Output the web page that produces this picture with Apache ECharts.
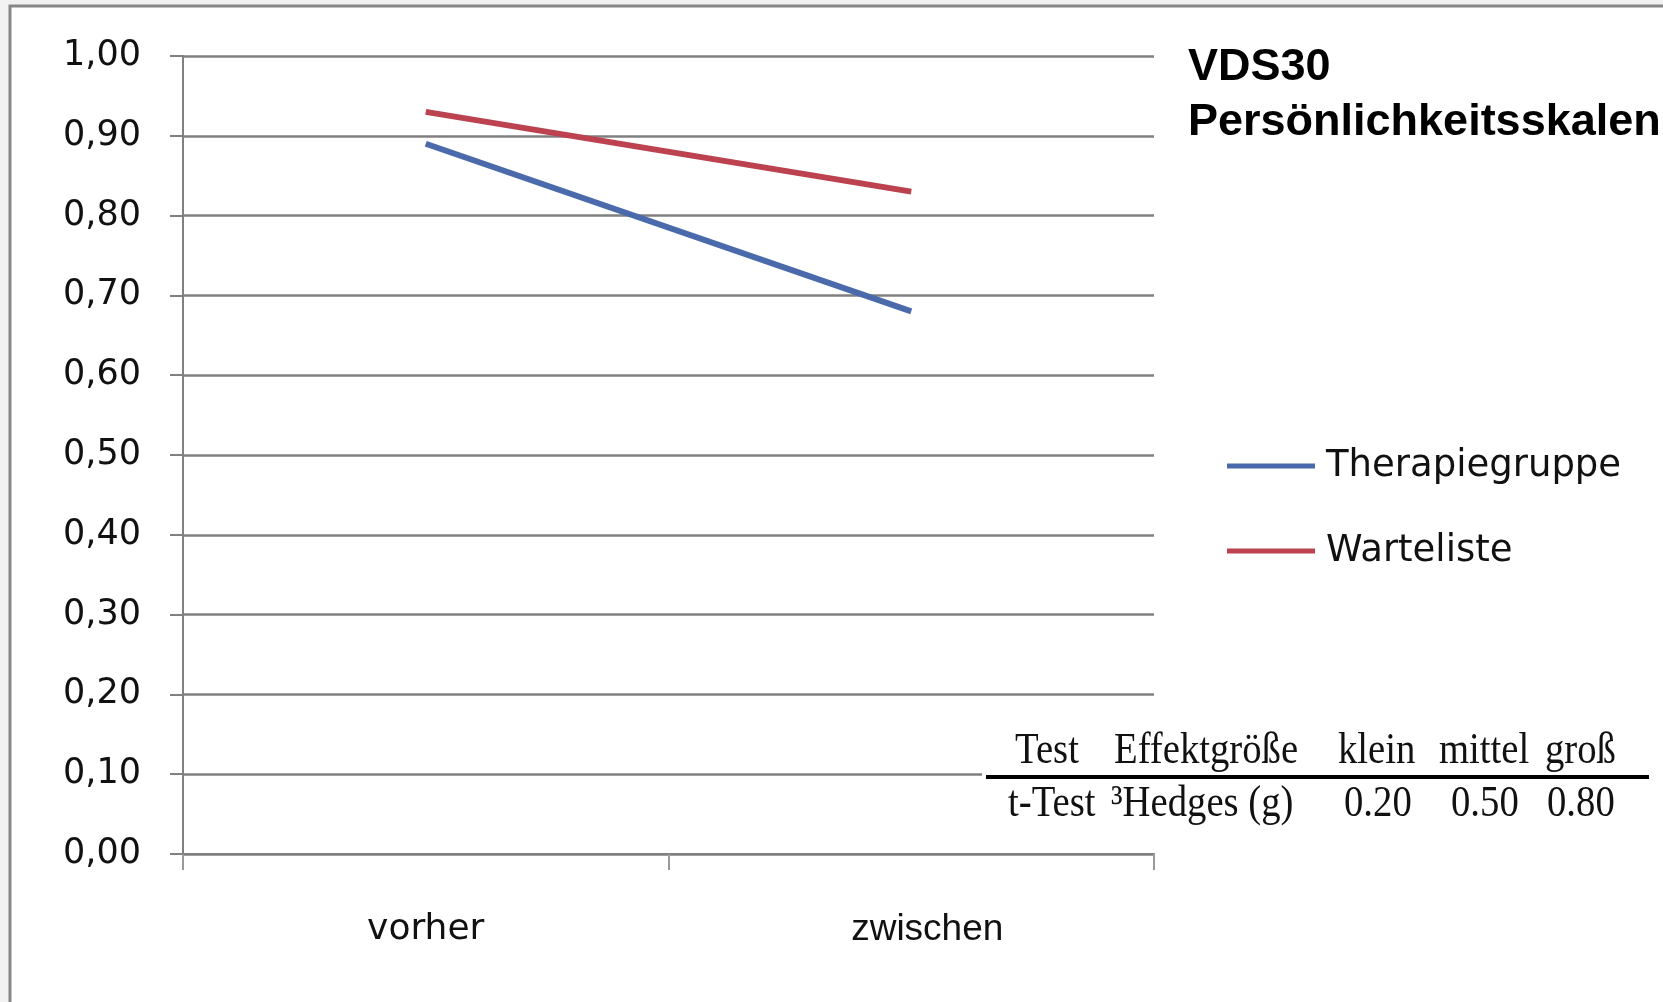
<!DOCTYPE html>
<html>
<head>
<meta charset="utf-8">
<script src="https://cdn.jsdelivr.net/npm/echarts@6/dist/echarts.min.js"></script>
<style>
html,body{margin:0;padding:0;background:#f2f2f2;}
#c{width:1663px;height:1002px;}
</style>
</head>
<body>
<div id="c"></div>
<script>
// ---- data ----
const categories = ['vorher', 'zwischen'];
const therapiegruppe = [0.89, 0.68];
const warteliste = [0.93, 0.83];
const seriesNames = ['Therapiegruppe', 'Warteliste'];
const yTickLabels = ['0,00','0,10','0,20','0,30','0,40','0,50','0,60','0,70','0,80','0,90','1,00'];
const titleLines = ['VDS30', 'Persönlichkeitsskalen'];
const tableHeader = ['Test', 'Effektgröße', 'klein', 'mittel', 'groß'];
const tableRow = ['t-Test', '³Hedges (g)', '0.20', '0.50', '0.80'];

// ---- layout ----
const headerX = [1015, 1114, 1338, 1439, 1545];
const rowX = [1008, 1111, 1344, 1451, 1547];

const chart = echarts.init(document.getElementById('c'));

const tableFont = {fontFamily: 'Liberation Serif', fontSize: 45, fill: '#111'};
const tableEls = [];
tableHeader.forEach((t, i) => tableEls.push({
  type: 'text', x: headerX[i], y: 751, scaleX: 0.86, z: 101,
  style: Object.assign({text: t, verticalAlign: 'middle', align: 'left'}, tableFont)
}));
tableRow.forEach((t, i) => tableEls.push({
  type: 'text', x: rowX[i], y: 804, scaleX: 0.86, z: 101,
  style: Object.assign({text: t, verticalAlign: 'middle', align: 'left'}, tableFont)
}));

chart.setOption({
  backgroundColor: 'transparent',
  animation: false,
  title: {
    text: titleLines.join('\n'),
    left: 1188, top: 40, padding: 0,
    textStyle: {fontFamily: 'Liberation Sans', fontWeight: 'bold', fontSize: 45, lineHeight: 55, color: '#000'}
  },
  legend: {
    data: seriesNames,
    orient: 'vertical',
    left: 1227, top: 446, padding: 0,
    icon: 'rect',
    itemWidth: 88, itemHeight: 5,
    itemGap: 45,
    textStyle: {fontFamily: 'DejaVu Sans', fontSize: 37, lineHeight: 40, color: '#111', padding: [0, 0, 0, 6]}
  },
  grid: {left: 183, right: 509, top: 56, bottom: 148, containLabel: false},
  xAxis: {
    type: 'category',
    data: categories,
    boundaryGap: true,
    axisLine: {show: true, lineStyle: {color: '#808080', width: 2}},
    axisTick: {show: true, length: 16, lineStyle: {color: '#9a9a9a', width: 2}},
    axisLabel: {
      margin: 56,
      formatter: (v, i) => i === 0 ? '{a|' + v + '}' : '{b|' + v + '}',
      rich: {
        a: {fontFamily: 'DejaVu Sans', fontSize: 36, lineHeight: 40, color: '#111'},
        b: {fontFamily: 'Liberation Sans', fontSize: 37, lineHeight: 40, color: '#111', padding: [0, 0, 0, 32]}
      }
    },
    splitLine: {show: false}
  },
  yAxis: {
    type: 'value',
    min: 0, max: 1, interval: 0.1,
    axisLine: {show: true, lineStyle: {color: '#808080', width: 2}},
    axisTick: {show: true, length: 13, lineStyle: {color: '#808080', width: 2}},
    axisLabel: {
      margin: 42,
      fontFamily: 'DejaVu Sans', fontSize: 35, color: '#111',
      formatter: (v) => yTickLabels[Math.round(v * 10)]
    },
    splitLine: {show: true, lineStyle: {color: '#808080', width: 2.5}}
  },
  series: [
    {
      name: seriesNames[0], type: 'line', data: therapiegruppe,
      showSymbol: false, symbol: 'none',
      lineStyle: {color: '#4A6AAC', width: 6}, itemStyle: {color: '#4A6AAC'}, z: 3
    },
    {
      name: seriesNames[1], type: 'line', data: warteliste,
      showSymbol: false, symbol: 'none',
      lineStyle: {color: '#BC4250', width: 6}, itemStyle: {color: '#BC4250'}, z: 4
    }
  ],
  graphic: [
    {
      type: 'rect', z: -100, silent: true,
      shape: {x: 10, y: 6, width: 1700, height: 1100},
      style: {fill: '#ffffff', stroke: '#878787', lineWidth: 3}
    },
    {
      type: 'rect', z: 100, silent: true,
      shape: {x: 982, y: 722, width: 675, height: 104},
      style: {fill: '#ffffff'}
    },
    {
      type: 'line', z: 101, silent: true,
      shape: {x1: 986, y1: 777, x2: 1649, y2: 777},
      style: {stroke: '#000', lineWidth: 4}
    }
  ].concat(tableEls)
});
</script>
</body>
</html>
